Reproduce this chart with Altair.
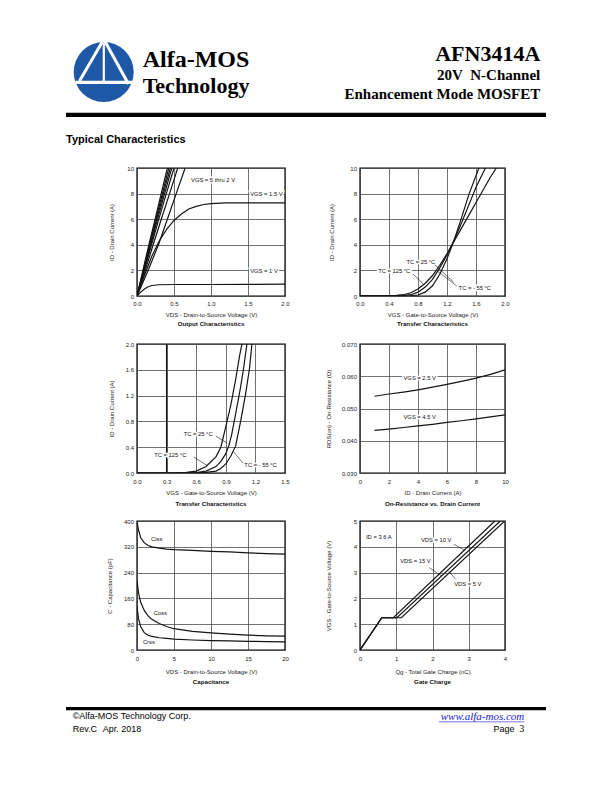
import altair as alt
import pandas as pd

SANS = "Liberation Sans"
SERIF = "Liberation Serif"
BLACK = "#141414"
GRAY = "#8c8c8c"
BLUE = "#1f58a6"

# ---------------- data ----------------
# Panel 1: Output characteristics (VDS in V, ID in A)
p1_id_lin = [0, 2, 4, 6, 8, 10]
p1_vds_5 = [0, 0.08, 0.16, 0.245, 0.327, 0.41]
p1_vds_45 = [0, 0.085, 0.168, 0.255, 0.342, 0.43]
p1_vds_4 = [0, 0.09, 0.176, 0.266, 0.357, 0.45]
p1_vds_35 = [0, 0.095, 0.185, 0.278, 0.373, 0.47]
p1_vds_3 = [0, 0.10, 0.196, 0.295, 0.396, 0.50]
p1_vds_25 = [0, 0.112, 0.218, 0.328, 0.44, 0.55]
p1_vds_2 = [0, 0.15, 0.29, 0.41, 0.53, 0.65]
p1_vds_15 = [0, 0.1, 0.2, 0.3, 0.4, 0.5, 0.6, 0.7, 0.8, 0.9, 1.0, 1.2, 1.5, 2.0]
p1_id_15 = [0, 1.6, 3.1, 4.3, 5.2, 5.9, 6.4, 6.8, 7.0, 7.15, 7.22, 7.27, 7.28, 7.28]
p1_vds_1 = [0, 0.05, 0.1, 0.15, 0.2, 0.3, 0.5, 1.0, 1.5, 2.0]
p1_id_1 = [0, 0.3, 0.55, 0.72, 0.82, 0.88, 0.9, 0.9, 0.91, 0.92]

# Panel 2: Transfer characteristics (VGS in V, ID in A)
p2_vgs_125 = [0.0, 0.5, 0.6, 0.7, 0.8, 0.9, 1.0, 1.1, 1.2, 1.3, 1.4, 1.5, 1.6, 1.7, 1.8, 1.88]
p2_id_125 = [0.03, 0.05, 0.1, 0.25, 0.55, 1.0, 1.6, 2.4, 3.3, 4.3, 5.3, 6.3, 7.3, 8.3, 9.3, 10.0]
p2_vgs_25 = [0.0, 0.6, 0.7, 0.8, 0.9, 1.0, 1.1, 1.2, 1.3, 1.4, 1.5, 1.6, 1.73]
p2_id_25 = [0.02, 0.04, 0.1, 0.3, 0.7, 1.3, 2.2, 3.2, 4.4, 5.7, 7.1, 8.5, 10.0]
p2_vgs_m55 = [0.0, 0.7, 0.8, 0.9, 1.0, 1.1, 1.2, 1.3, 1.4, 1.5, 1.64]
p2_id_m55 = [0.0, 0.02, 0.08, 0.3, 0.8, 1.7, 2.9, 4.4, 6.1, 7.9, 10.0]

# Panel 3: Transfer characteristics, low current
p3_vgs_125 = [0.0, 0.4, 0.5, 0.6, 0.7, 0.8, 0.85, 0.9, 0.95, 1.0, 1.04, 1.064]
p3_id_125 = [0.0, 0.003, 0.01, 0.03, 0.1, 0.25, 0.4, 0.72, 1.05, 1.45, 1.82, 2.0]
p3_vgs_25 = [0.0, 0.5, 0.6, 0.7, 0.8, 0.85, 0.9, 0.93, 0.96, 1.0, 1.05, 1.08, 1.114]
p3_id_25 = [0.0, 0.002, 0.008, 0.03, 0.1, 0.18, 0.3, 0.42, 0.6, 0.92, 1.33, 1.62, 2.0]
p3_vgs_m55 = [0.0, 0.6, 0.7, 0.8, 0.85, 0.9, 0.95, 1.0, 1.05, 1.1, 1.14, 1.165]
p3_id_m55 = [0.0, 0.003, 0.01, 0.03, 0.07, 0.14, 0.26, 0.42, 0.8, 1.22, 1.62, 2.0]

# Panel 4: On-resistance vs drain current
p4_id = [1, 2, 3, 4, 5, 6, 7, 8, 9, 10]
p4_r_25 = [0.0538, 0.0545, 0.0551, 0.0558, 0.0566, 0.0575, 0.0584, 0.0594, 0.0606, 0.0620]
p4_r_45 = [0.0432, 0.0436, 0.0441, 0.0446, 0.0451, 0.0457, 0.0462, 0.0468, 0.0474, 0.0480]

# Panel 5: Capacitance
p5_vds = [0, 0.2, 0.5, 1, 1.5, 2, 3, 4, 5, 7.5, 10, 12.5, 15, 17.5, 20]
p5_ciss = [398, 372, 348, 332, 324, 320, 316, 313, 311, 309, 306, 304, 301, 299, 297]
p5_coss = [215, 178, 148, 122, 106, 95, 82, 73, 66, 58, 53, 49, 46, 44, 43]
p5_crss = [135, 98, 72, 53, 46, 42, 38, 36, 34, 31, 29, 28, 27, 26, 25]

# Panel 6: Gate charge
p6_vgs = [0, 1.25, 1.25, 5.0]
p6_qg_10 = [0, 0.6, 0.92, 3.72]
p6_qg_15 = [0, 0.6, 1.02, 3.87]
p6_qg_5 = [0, 0.6, 1.14, 3.99]

# annotation texts (text, x, y in data units) and leader lines (x, y, x2, y2)
p1_labels = [("VGS = 5 thru 2 V", 0.73, 9.1), ("VGS = 1.5 V", 1.53, 8.0), ("VGS = 1 V", 1.53, 1.95)]
p2_labels = [("TC = 25 °C", 0.64, 2.66), ("TC = 125 °C", 0.25, 1.95), ("TC = - 55 °C", 1.36, 0.65)]
p2_leaders = [(0.73, 1.72, 0.87, 0.96), (1.03, 2.45, 1.29, 1.09), (1.335, 0.78, 1.056, 2.0)]
p3_labels = [("TC = 25 °C", 0.473, 0.61), ("TC = 125 °C", 0.175, 0.274), ("TC = - 55 °C", 1.088, 0.12)]
p3_leaders = [(0.80, 0.57, 0.913, 0.465), (0.577, 0.248, 0.712, 0.113), (1.074, 0.155, 0.98, 0.326)]
p4_labels = [("VGS = 2.5 V", 3.0, 0.0596), ("VGS = 4.5 V", 3.0, 0.0475)]
p5_labels = [("Ciss", 1.9, 344), ("Coss", 2.25, 114), ("Crss", 0.8, 26)]
p6_labels = [("ID = 3.6 A", 0.165, 4.38), ("VDS = 10 V", 1.68, 4.25),
             ("VDS = 15 V", 1.11, 3.45), ("VDS = 5 V", 2.6, 2.55)]
p6_leaders = [(2.59, 4.1, 2.89, 3.86), (1.91, 3.19, 2.26, 2.86), (2.64, 2.74, 2.45, 3.05)]

DUMMY = pd.DataFrame({"a": [0]})


def long_df(curves):
    rows = []
    for name, xs, ys in curves:
        for i, (x, y) in enumerate(zip(xs, ys)):
            rows.append({"s": name, "x": x, "y": y, "i": i})
    return pd.DataFrame(rows)


def panel(curves, colors, xdom, xvals, xfmt, ydom, yvals, yfmt, xtitle, ytitle,
          caption, w, h, ytx, row, labels=None, leaders=None, vrule=None, extra=None):
    df = long_df(curves)
    names = [c[0] for c in curves]
    xs = alt.Scale(domain=xdom, nice=False, zero=False)
    ys = alt.Scale(domain=ydom, nice=False, zero=False)
    xa = alt.Axis(values=xvals, format=xfmt, title=xtitle, titleX=w / 2, titleY=row["t"],
                  titleAlign="center", titleBaseline="alphabetic", labelPadding=row["lp"])
    ya = alt.Axis(values=yvals, format=yfmt, title=ytitle, titleX=ytx, titleY=h / 2,
                  titleAngle=270, titleAlign="center", titleBaseline="middle", labelPadding=3.5)
    X = alt.X("x:Q", scale=xs, axis=xa)
    Y = alt.Y("y:Q", scale=ys, axis=ya)
    layers = []
    if vrule is not None:
        layers.append(alt.Chart(pd.DataFrame({"x": vrule})).mark_rule(color=BLACK, strokeWidth=1.3)
                      .encode(x=X))
    layers.append(alt.Chart(df).mark_line(strokeWidth=1.2, clip=True).encode(
        x=X, y=Y,
        color=alt.Color("s:N", scale=alt.Scale(domain=names, range=colors), legend=None),
        order=alt.Order("i:Q")))
    if labels:
        ldf = pd.DataFrame(labels, columns=["t", "x", "y"])
        layers.append(alt.Chart(ldf).mark_text(align="left", baseline="middle", font=SANS, fontSize=5.8,
                                               color="white", stroke="white", strokeWidth=3)
                      .encode(x=X, y=Y, text="t:N"))
    if leaders:
        rdf = pd.DataFrame(leaders, columns=["x", "y", "x2", "y2"])
        layers.append(alt.Chart(rdf).mark_rule(color=BLACK, strokeWidth=0.6)
                      .encode(x=X, y=Y, x2="x2:Q", y2="y2:Q"))
    if labels:
        layers.append(alt.Chart(ldf).mark_text(align="left", baseline="middle", font=SANS, fontSize=5.8,
                                               color="#111")
                      .encode(x=X, y=Y, text="t:N"))
    layers.append(alt.Chart(DUMMY).mark_text(text=caption, align="center", baseline="alphabetic", font=SANS,
                                             fontSize=6.2, fontWeight="bold", color="#111")
                  .encode(x=alt.value(w / 2), y=alt.value(h + row["c"])))
    if extra:
        layers.extend(extra)
    return alt.layer(*layers).properties(width=w, height=h)


# ---------------- page decorations (attached to first panel) ----------------
OX, OY = 136, 167


def ptext(t, x, y, size, font=SANS, weight="normal", align="left", color="black", style="normal"):
    return alt.Chart(DUMMY).mark_text(text=t, font=font, fontSize=size, fontWeight=weight, align=align,
                                      baseline="alphabetic", color=color, fontStyle=style).encode(
        x=alt.value(x - OX), y=alt.value(y - OY))


def prule(x1, y1, x2, y2, width, color="black"):
    return alt.Chart(DUMMY).mark_rule(color=color, strokeWidth=width, strokeCap="butt").encode(
        x=alt.value(x1 - OX), x2=alt.value(x2 - OX), y=alt.value(y1 - OY), y2=alt.value(y2 - OY))


deco = [
    alt.Chart(DUMMY).mark_rect(color="white").encode(
        x=alt.value(8 - OX), x2=alt.value(9 - OX), y=alt.value(8 - OY), y2=alt.value(9 - OY)),
    alt.Chart(DUMMY).mark_circle(size=3600, color=BLUE, opacity=1).encode(
        x=alt.value(102.7 - OX), y=alt.value(71 - OY)),
    prule(101.5, 40.5, 78.5, 80, 3, "white"),
    prule(104, 40.5, 127.5, 83, 3, "white"),
    prule(102.8, 42, 102.8, 80, 2.2, "white"),
    prule(74.5, 81.3, 131, 81.3, 3.2, "white"),
    ptext("Alfa-MOS", 141.7, 66, 24, SERIF, "bold"),
    ptext("Technology", 141.7, 92.3, 22, SERIF, "bold"),
    ptext("AFN3414A", 539.3, 60, 22, SERIF, "bold", "right"),
    ptext("20V\u00a0 N-Channel", 539.3, 79, 15, SERIF, "bold", "right"),
    ptext("Enhancement Mode MOSFET", 539.3, 98.3, 15, SERIF, "bold", "right"),
    prule(65, 113.8, 545, 113.8, 4.3),
    ptext("Typical Characteristics", 65, 142, 11, SANS, "bold"),
    prule(65, 707.7, 545, 707.7, 3.3),
    ptext("©Alfa-MOS Technology Corp.", 71.7, 718.3, 9),
    ptext("Rev.C", 71.7, 730.7, 9),
    ptext("Apr. 2018", 101.7, 730.7, 9),
    ptext("www.alfa-mos.com", 523.3, 719, 11, SERIF, "normal", "right", "#1a1acc", "italic"),
    prule(437.7, 720.8, 523.3, 720.8, 0.6, "#1a1acc"),
    ptext("Page", 513.5, 730.7, 9, SANS, "normal", "right"),
    ptext("3", 523.3, 730.7, 9.5, SERIF, "normal", "right"),
]

R1 = {"lp": 4, "t": 20, "c": 29.5}
R2 = {"lp": 5.5, "t": 21.5, "c": 32.5}
R3 = {"lp": 5.5, "t": 23, "c": 34}

c1 = [("5 V", p1_vds_5, p1_id_lin), ("4.5 V", p1_vds_45, p1_id_lin), ("4 V", p1_vds_4, p1_id_lin),
      ("3.5 V", p1_vds_35, p1_id_lin), ("3 V", p1_vds_3, p1_id_lin), ("2.5 V", p1_vds_25, p1_id_lin),
      ("2 V", p1_vds_2, p1_id_lin), ("1.5 V", p1_vds_15, p1_id_15), ("1 V", p1_vds_1, p1_id_1)]
panel1 = panel(c1, [BLACK] * 9, [0, 2], [0.0, 0.5, 1.0, 1.5, 2.0], ".1f", [0, 10], [0, 2, 4, 6, 8, 10], "d",
               "VDS - Drain-to-Source Voltage (V)", "ID - Drain Current (A)", "Output Characteristics",
               148, 128, -26, R1, labels=p1_labels, extra=deco)

c2 = [("125", p2_vgs_125, p2_id_125), ("25", p2_vgs_25, p2_id_25), ("-55", p2_vgs_m55, p2_id_m55)]
panel2 = panel(c2, [BLACK, GRAY, BLACK], [0, 2], [0.0, 0.4, 0.8, 1.2, 1.6, 2.0], ".1f", [0, 10],
               [0, 2, 4, 6, 8, 10], "d", "VGS - Gate-to-Source Voltage (V)", "ID - Drain Current (A)",
               "Transfer Characteristics", 145, 128, -29, R1, labels=p2_labels, leaders=p2_leaders)

c3 = [("125", p3_vgs_125, p3_id_125), ("25", p3_vgs_25, p3_id_25), ("-55", p3_vgs_m55, p3_id_m55)]
panel3 = panel(c3, [BLACK, BLACK, BLACK], [0, 1.5], [0.0, 0.3, 0.6, 0.9, 1.2, 1.5], ".1f", [0, 2],
               [0.0, 0.4, 0.8, 1.2, 1.6, 2.0], ".1f", "VGS - Gate-to-Source Voltage (V)",
               "ID - Drain Current (A)", "Transfer Characteristics", 148, 129, -26, R2,
               labels=p3_labels, leaders=p3_leaders, vrule=[0.3])

c4 = [("2.5 V", p4_id, p4_r_25), ("4.5 V", p4_id, p4_r_45)]
panel4 = panel(c4, [GRAY, BLACK], [0, 10], [0, 2, 4, 6, 8, 10], "d", [0.03, 0.07],
               [0.03, 0.04, 0.05, 0.06, 0.07], ".3f", "ID - Drain Current (A)",
               "RDS(on) - On-Resistance (Ω)", "On-Resistance vs. Drain Current", 145, 129, -32, R2,
               labels=p4_labels)

c5 = [("Ciss", p5_vds, p5_ciss), ("Coss", p5_vds, p5_coss), ("Crss", p5_vds, p5_crss)]
panel5 = panel(c5, [BLACK, BLACK, BLACK], [0, 20], [0, 5, 10, 15, 20], "d", [0, 400],
               [0, 80, 160, 240, 320, 400], "d", "VDS - Drain-to-Source Voltage (V)",
               "C - Capacitance (pF)", "Capacitance", 148, 129, -28, R3, labels=p5_labels)

c6 = [("10 V", p6_qg_10, p6_vgs), ("5 V", p6_qg_5, p6_vgs), ("15 V", p6_qg_15, p6_vgs)]
panel6 = panel(c6, [GRAY, GRAY, BLACK], [0, 4], [0, 1, 2, 3, 4], "d", [0, 5], [0, 1, 2, 3, 4, 5], "d",
               "Qg - Total Gate Charge (nC)", "VGS - Gate-to-Source Voltage (V)", "Gate Charge",
               145, 129, -32, R3, labels=p6_labels, leaders=p6_leaders)

chart = alt.concat(
    panel1, panel2, panel3, panel4, panel5, panel6,
    columns=2, spacing={"row": 48, "column": 75}, bounds="flush"
).properties(
    padding=0, background="white"
).configure_view(
    stroke="black", strokeWidth=1.4
).configure_axis(
    labelFont=SANS, labelFontSize=6, labelColor="#222", titleFont=SANS, titleFontSize=6,
    titleFontWeight="normal", titleColor="#222", grid=True, gridColor="#4d4d4d", gridWidth=0.8,
    domain=False, ticks=False, tickSize=0, labelFlush=False, labelOverlap=False, labelBound=False
)

chart.save("out.html", embed_options={"renderer": "svg", "actions": False})
